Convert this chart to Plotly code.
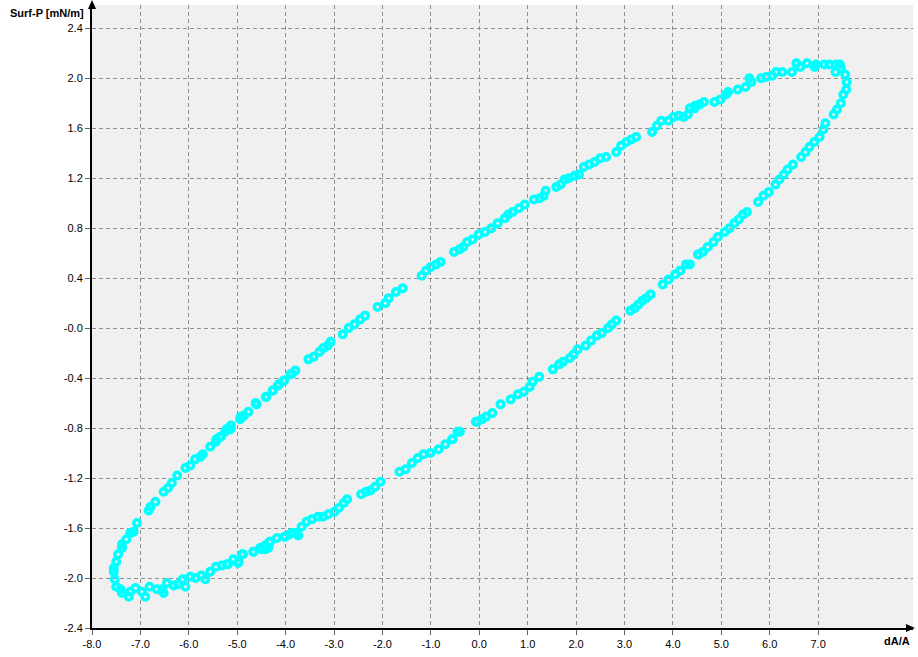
import plotly.graph_objects as go

# ---- data (dA/A vs Surf-P) ----
dA_upper = [
    -7.53, -7.55, -7.55, -7.50, -7.46, -7.38, -7.38, -7.29, -7.21, -7.14, -7.07,
    -6.83, -6.79, -6.69, -6.52, -6.43, -6.35, -6.24, -6.07, -5.97, -5.87, -5.76,
    -5.71, -5.56, -5.44, -5.43, -5.35, -5.34, -5.25, -5.22, -5.14, -5.13, -4.94,
    -4.93, -4.86, -4.77, -4.62, -4.60, -4.41, -4.40, -4.27, -4.26, -4.16, -4.14,
    -4.04, -4.03, -3.90, -3.87, -3.80, -3.53, -3.42, -3.30, -3.22, -3.13, -3.07,
    -2.82, -2.70, -2.58, -2.46, -2.36, -2.10, -1.94, -1.87, -1.72, -1.58, -1.19,
    -1.10, -1.00, -0.89, -0.80, -0.52, -0.41, -0.33, -0.25, -0.14, -0.01, 0.12,
    0.25, 0.38, 0.53, 0.60, 0.69, 0.82, 0.94, 1.13, 1.25, 1.33, 1.37, 1.59, 1.68,
    1.76, 1.85, 1.97, 2.06, 2.16, 2.27, 2.38, 2.50, 2.62, 2.83, 2.93, 3.04, 3.14,
    3.24, 3.57, 3.67, 3.76, 3.91, 4.01, 4.12, 4.22, 4.31, 4.35, 4.45, 4.46, 4.55,
    4.64, 4.86, 4.98, 5.10, 5.14, 5.34, 5.50, 5.58, 5.62, 5.82, 5.93, 6.05, 6.13,
    6.26, 6.46, 6.55, 6.63, 6.77, 6.93, 6.96, 7.13, 7.23, 7.36, 7.37, 7.45, 7.47,
]
P_upper = [
    -2.01, -1.95, -1.92, -1.87, -1.81, -1.76, -1.73, -1.69, -1.64, -1.63, -1.56,
    -1.46, -1.43, -1.39, -1.31, -1.28, -1.24, -1.18, -1.12, -1.10, -1.05, -1.03,
    -1.01, -0.95, -0.91, -0.89, -0.87, -0.87, -0.83, -0.81, -0.81, -0.78, -0.73,
    -0.71, -0.70, -0.67, -0.60, -0.61, -0.55, -0.55, -0.50, -0.50, -0.46, -0.45,
    -0.42, -0.42, -0.37, -0.365, -0.34, -0.25, -0.23, -0.19, -0.16, -0.14, -0.11,
    -0.05, 0.00, 0.03, 0.07, 0.10, 0.17, 0.20, 0.24, 0.29, 0.32, 0.42,
    0.46, 0.49, 0.51, 0.53, 0.61, 0.63, 0.65, 0.69, 0.71, 0.75, 0.77,
    0.80, 0.84, 0.88, 0.91, 0.93, 0.96, 0.99, 1.03, 1.04, 1.06, 1.10, 1.13, 1.15,
    1.19, 1.20, 1.22, 1.23, 1.29, 1.31, 1.33, 1.36, 1.37, 1.41, 1.46, 1.49, 1.51,
    1.53, 1.57, 1.62, 1.66, 1.66, 1.69, 1.70, 1.69, 1.71, 1.76, 1.76, 1.78, 1.79,
    1.81, 1.81, 1.83, 1.87, 1.89, 1.91, 1.93, 2.00, 1.97, 2.00, 2.01, 2.02, 2.05,
    2.05, 2.05, 2.12, 2.09, 2.12, 2.09, 2.11, 2.11, 2.11, 2.05, 2.11, 2.11, 2.08,
]

dA_lower = [
    7.56, 7.59, 7.58, 7.52, 7.47, 7.39, 7.32, 7.15, 7.11, 7.03, 6.92, 6.82, 6.74,
    6.65, 6.48, 6.37, 6.29, 6.20, 6.12, 5.98, 5.87, 5.76, 5.53, 5.45, 5.36, 5.27,
    5.17, 5.07, 4.93, 4.84, 4.72, 4.62, 4.53, 4.52, 4.35, 4.27, 4.15, 4.05, 3.91,
    3.79, 3.54, 3.45, 3.37, 3.29, 3.21, 3.12, 2.83, 2.74, 2.66, 2.53, 2.43, 2.31,
    2.20, 2.03, 1.95, 1.87, 1.73, 1.65, 1.52, 1.24, 1.10, 1.04, 0.92, 0.80, 0.65,
    0.44, 0.27, 0.14, 0.05, -0.04, -0.07, -0.40, -0.45, -0.55, -0.56, -0.70, -0.84,
    -1.01, -1.15, -1.27, -1.39, -1.52, -1.65, -2.04, -2.15, -2.25, -2.34, -2.44,
    -2.73, -2.80, -2.90, -2.99, -3.12, -3.23, -3.33, -3.46, -3.57, -3.67, -3.74,
    -3.78, -3.87, -3.91, -4.01, -4.02, -4.18, -4.32, -4.33, -4.36, -4.42, -4.43,
    -4.50, -4.53, -4.66, -4.67, -4.88, -4.90, -4.97, -4.98, -5.08, -5.19, -5.21,
    -5.32, -5.44, -5.56, -5.66, -5.74, -5.86, -5.97, -6.07, -6.13, -6.22, -6.31,
    -6.45, -6.52, -6.55, -6.66, -6.81, -6.90, -6.97, -7.10, -7.21, -7.24, -7.38,
    -7.41, -7.50,
]
P_lower = [
    2.03, 1.97, 1.91, 1.87, 1.80, 1.75, 1.71, 1.64, 1.59, 1.53, 1.49, 1.45, 1.41,
    1.37, 1.31, 1.27, 1.23, 1.19, 1.15, 1.09, 1.06, 1.01, 0.93, 0.91, 0.87, 0.84,
    0.80, 0.77, 0.73, 0.69, 0.65, 0.61, 0.59, 0.59, 0.51, 0.51, 0.46, 0.43, 0.39,
    0.35, 0.27, 0.24, 0.22, 0.19, 0.16, 0.14, 0.06, 0.03, 0.00, -0.04, -0.06, -0.10,
    -0.14, -0.17, -0.21, -0.24, -0.27, -0.29, -0.33, -0.39, -0.43, -0.47, -0.51, -0.53, -0.57,
    -0.61, -0.68, -0.71, -0.73, -0.75, -0.75, -0.83, -0.83, -0.89, -0.89, -0.93, -0.97,
    -1.00, -1.01, -1.04, -1.08, -1.13, -1.15, -1.23, -1.27, -1.30, -1.31, -1.33,
    -1.37, -1.40, -1.44, -1.47, -1.49, -1.51, -1.51, -1.53, -1.55, -1.59, -1.66,
    -1.64, -1.64, -1.65, -1.67, -1.67, -1.68, -1.71, -1.71, -1.76, -1.77, -1.74,
    -1.77, -1.76, -1.79, -1.79, -1.81, -1.81, -1.87, -1.88, -1.85, -1.89, -1.89,
    -1.90, -1.91, -1.95, -2.01, -1.98, -2.00, -1.99, -2.07, -2.01, -2.05, -2.06,
    -2.04, -2.12, -2.09, -2.09, -2.07, -2.15, -2.11, -2.08, -2.11, -2.15, -2.12,
    -2.09, -2.07,
]

x_ticks = [-8, -7, -6, -5, -4, -3, -2, -1, 0, 1, 2, 3, 4, 5, 6, 7]
x_tick_labels = ["-8.0", "-7.0", "-6.0", "-5.0", "-4.0", "-3.0", "-2.0", "-1.0",
                 "0.0", "1.0", "2.0", "3.0", "4.0", "5.0", "6.0", "7.0"]
y_ticks = [-2.4, -2.0, -1.6, -1.2, -0.8, -0.4, 0.0, 0.4, 0.8, 1.2, 1.6, 2.0, 2.4]
y_tick_labels = ["-2.4", "-2.0", "-1.6", "-1.2", "-0.8", "-0.4", "-0.0",
                 "0.4", "0.8", "1.2", "1.6", "2.0", "2.4"]
x_title = "dA/A"
y_title = "Surf-P [mN/m]"

# ---- figure ----
W, H = 918, 657
L, R, T, B = 92, 5, 5, 29
pw, ph = W - L - R, H - T - B

marker = dict(symbol="circle-open", size=6.5, color="#00ffff",
              line=dict(width=3.5, color="#00ffff"))

fig = go.Figure()
fig.add_trace(go.Scatter(x=dA_upper, y=P_upper, mode="markers", marker=marker,
                         showlegend=False, hoverinfo="x+y", cliponaxis=False))
fig.add_trace(go.Scatter(x=dA_lower, y=P_lower, mode="markers", marker=marker,
                         showlegend=False, hoverinfo="x+y", cliponaxis=False))

font = dict(family="Liberation Sans, Arial, sans-serif", size=11, color="#000000")

axis_common = dict(
    showgrid=True, gridcolor="#8f8f8f", gridwidth=1, griddash="4px,3px",
    zeroline=False, showline=True, linecolor="#000000", linewidth=2,
    ticks="outside", ticklen=5, tickwidth=1, tickcolor="#666666",
    tickfont=font, fixedrange=True, automargin=False,
)

fig.update_layout(
    width=W, height=H,
    margin=dict(l=L, r=R, t=T, b=B, pad=0, autoexpand=False),
    paper_bgcolor="#ffffff", plot_bgcolor="#f0f0f0",
    font=font,
    xaxis=dict(range=[-8.0, 8.96], tickmode="array", tickvals=x_ticks,
               ticktext=x_tick_labels, **axis_common),
    yaxis=dict(range=[-2.4, 2.586], tickmode="array", tickvals=y_ticks,
               ticktext=y_tick_labels, **axis_common),
)

# axis arrows
def px_x(p):
    return (p - L) / pw

def px_y(p):
    return (H - B - p) / ph

fig.add_shape(type="path", xref="paper", yref="paper",
              path=f"M {px_x(92)} {px_y(0)} L {px_x(88)} {px_y(9)} L {px_x(96)} {px_y(9)} Z",
              fillcolor="#000000", line=dict(width=0))
fig.add_shape(type="path", xref="paper", yref="paper",
              path=f"M {px_x(915)} {px_y(628)} L {px_x(906)} {px_y(624)} L {px_x(906)} {px_y(632)} Z",
              fillcolor="#000000", line=dict(width=0))

# axis titles
fig.add_annotation(text=f"<b>{y_title}</b>", xref="paper", yref="paper",
                   x=px_x(86), y=px_y(13), xanchor="right", yanchor="middle",
                   showarrow=False, font=font)
fig.add_annotation(text=f"<b>{x_title}</b>", xref="paper", yref="paper",
                   x=px_x(912), y=px_y(641), xanchor="right", yanchor="middle",
                   showarrow=False, font=font)

fig.write_html(
    "out.html",
    config={"displayModeBar": False},
    post_script="document.body.style.margin='0';document.body.style.overflow='hidden';",
)
